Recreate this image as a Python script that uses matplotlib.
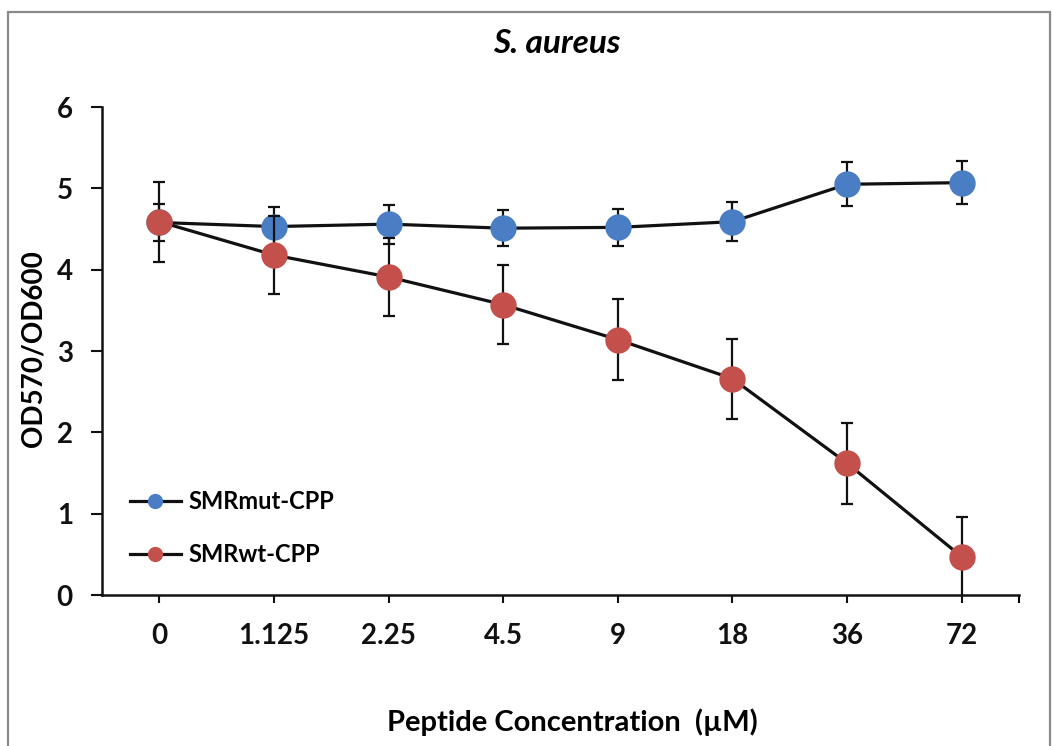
import numpy as np
import matplotlib
matplotlib.use("Agg")
import matplotlib.pyplot as plt
from matplotlib.patches import Rectangle
from matplotlib.lines import Line2D


# ──────────────────────────────────────────────
# Data
# ──────────────────────────────────────────────

concentrations = ["0", "1.125", "2.25", "4.5", "9", "18", "36", "72"]

mut_mean = [4.58, 4.53, 4.56, 4.51, 4.52, 4.59, 5.05, 5.07]
mut_err = [0.23, 0.24, 0.24, 0.22, 0.23, 0.24, 0.27, 0.26]

wt_mean = [4.59, 4.18, 3.91, 3.57, 3.14, 2.66, 1.62, 0.47]
wt_err = [0.49, 0.48, 0.48, 0.49, 0.50, 0.49, 0.50, 0.49]

BLUE = "#4a7ec4"
RED = "#c4504c"
INK = "#111111"

plt.rcParams["font.family"] = ["Lato", "DejaVu Sans"]
plt.rcParams["font.weight"] = "bold"

W, H = 1053, 746
fig = plt.figure(figsize=(W / 100, H / 100), dpi=100)
ax = fig.add_axes([102 / W, (H - 595) / H, (1019 - 102) / W, (595 - 107) / H])

x = np.arange(len(concentrations))


def draw_series(mean, err, color, z):
    ax.errorbar(x, mean, yerr=err, fmt="none", ecolor=INK,
                elinewidth=1.6, capsize=4.5, capthick=1.6, zorder=z)
    ax.plot(x, mean, "-", color=INK, lw=2.3, zorder=z + 1)
    ax.plot(x, mean, "o", color=color, ms=19, mew=0, zorder=z + 2)


draw_series(mut_mean, mut_err, BLUE, 2)
draw_series(wt_mean, wt_err, RED, 6)

# legend: line running through a small marker
handles = [
    Line2D([], [], color=INK, lw=2.3, marker="o", ms=11, mfc=BLUE, mew=0),
    Line2D([], [], color=INK, lw=2.3, marker="o", ms=11, mfc=RED, mew=0),
]
ax.legend(handles, ["SMRmut-CPP", "SMRwt-CPP"], loc="center left",
          bbox_to_anchor=(0.03, 0.137), frameon=False, fontsize=17,
          handlelength=2.2, handletextpad=0.3, labelspacing=1.25,
          borderpad=0, borderaxespad=0)

# axes styling
ax.set_xlim(-0.5, len(x) - 0.5)
ax.set_ylim(0, 6)
ax.set_xticks(x)
ax.set_xticklabels(concentrations)
ax.set_xticks([len(x) - 0.5], minor=True)
ax.set_yticks(np.arange(0, 7, 1))

for s in ["top", "right"]:
    ax.spines[s].set_visible(False)
for s in ["left", "bottom"]:
    ax.spines[s].set_linewidth(1.8)
    ax.spines[s].set_color(INK)

ax.tick_params(axis="y", direction="out", length=8, width=1.5,
               labelsize=20, pad=13, colors=INK)
ax.tick_params(axis="x", which="major", direction="out", length=5.5,
               width=1.5, labelsize=20, pad=15, colors=INK)
ax.tick_params(axis="x", which="minor", direction="out", length=5.5,
               width=1.5)

ax.set_ylabel("OD570/OD600", fontsize=20, fontweight="bold")
ax.yaxis.label.set_va("center")
ax.yaxis.set_label_coords(-0.075, 0.505)
ax.set_xlabel("Peptide Concentration  (\u00b5M)", fontsize=21,
              fontweight="bold")
ax.xaxis.label.set_va("center")
ax.xaxis.set_label_coords(0.513, -0.26)

ax.text(0.496, 1.131, "S. aureus", transform=ax.transAxes, fontsize=24,
        fontweight="bold", style="italic", ha="center", va="center")

# grey frame around the chart area
fig.add_artist(Rectangle((8 / W, -0.05), (1050 - 8) / W, 1.05 - 12 / H,
                         transform=fig.transFigure, fill=False,
                         edgecolor="#8a8a8a", lw=1.6))

fig.savefig("out.png", dpi=100)
